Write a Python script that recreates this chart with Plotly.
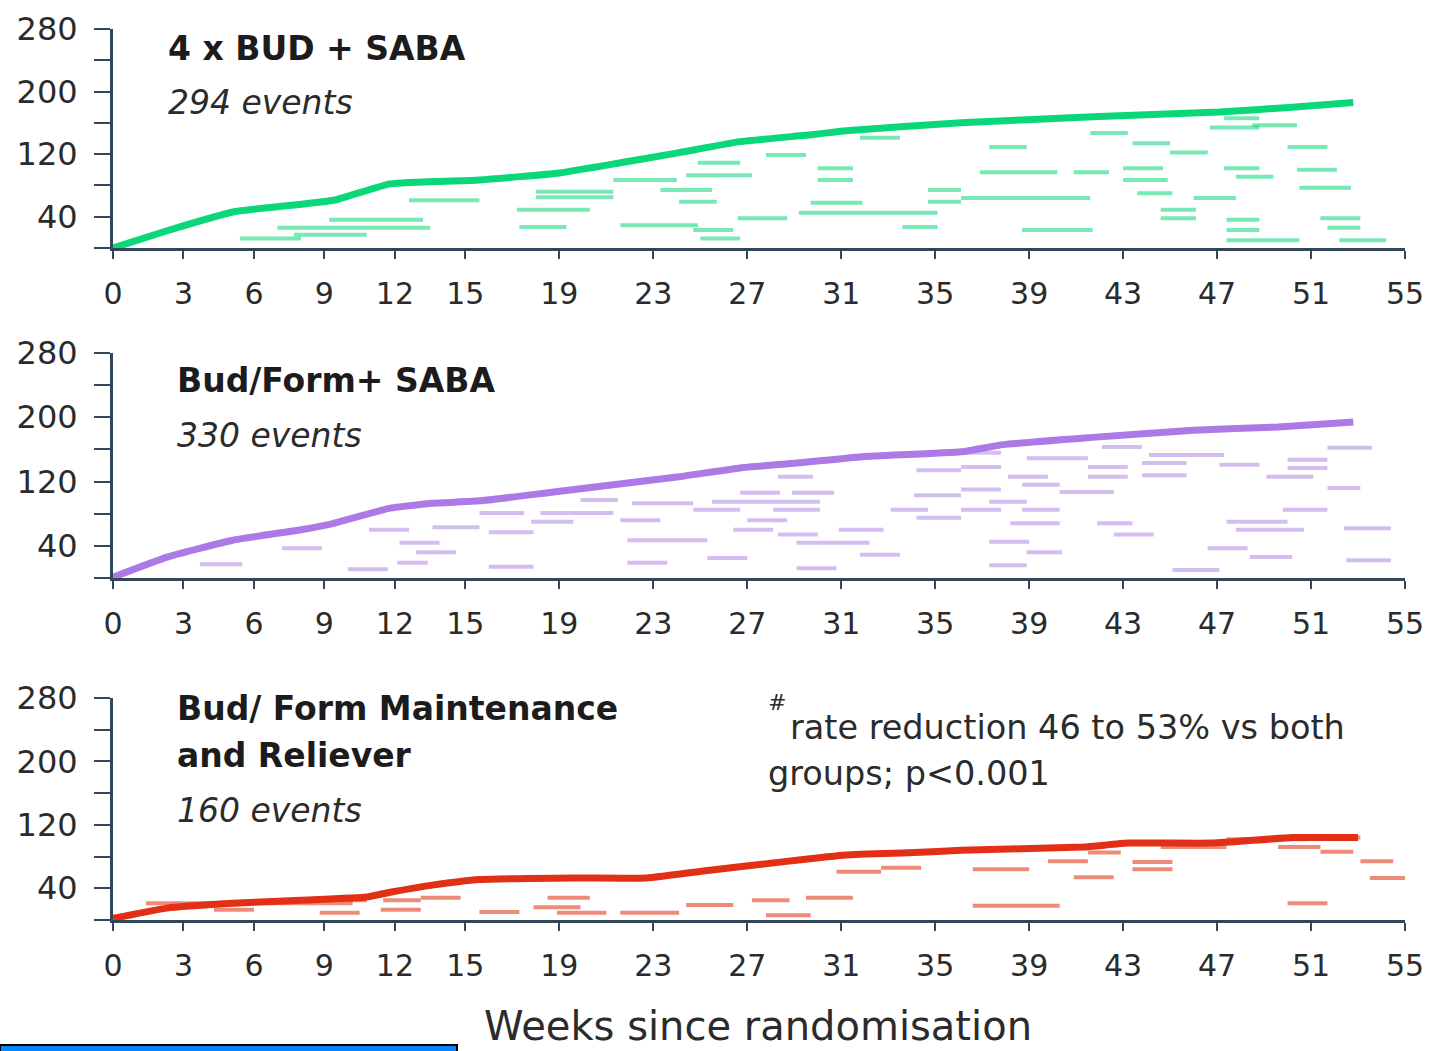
import plotly.graph_objects as go

# Week ticks on the shared time axis
week_ticks = [0, 3, 6, 9, 12, 15, 19, 23, 27, 31, 35, 39, 43, 47, 51, 55]
count_ticks = [0, 40, 80, 120, 160, 200, 240, 280]
count_labels = ["", "40", "", "120", "", "200", "", "280"]

# 4 x BUD + SABA: cumulative curve (weeks, events)
bud_weeks = [0, 2.3, 5.1, 9.4, 11.8, 15.6, 19.0, 21.6, 24.1, 26.7, 29.8, 31.2, 36.1, 40.3, 43.7, 47.1, 50.2, 52.8]
bud_events = [0, 22, 46, 61, 82, 87, 96, 109, 122, 136, 145, 150, 160, 166, 170, 174, 180, 186]
# individual event segments: start week, end week, level
bud_seg_start = [7.0, 9.2, 12.6, 5.4, 7.7, 17.2, 17.3, 18.0, 18.0, 21.3, 23.3, 24.1, 21.6, 24.7, 25.0,
                 24.4, 24.9, 27.8, 26.6, 30.0, 30.0, 29.7, 29.2, 33.6, 31.8, 34.7, 34.7, 37.3, 36.9,
                 36.1, 38.7, 41.6, 43.4, 45.0, 40.9, 43.0, 43.0, 43.6, 44.6, 44.6, 46.0, 46.7, 47.3,
                 48.5, 47.3, 47.8, 47.4, 47.4, 47.4, 50.0, 50.4, 50.5, 51.4, 51.7, 52.2]
bud_seg_end = [13.5, 13.2, 15.6, 8.0, 10.8, 20.3, 19.3, 21.3, 21.3, 24.0, 25.5, 25.7, 24.9, 26.4, 26.7,
               27.2, 26.7, 29.5, 28.7, 31.5, 31.5, 31.9, 35.1, 35.1, 33.5, 36.1, 36.1, 38.9, 40.2,
               41.6, 41.7, 43.2, 45.0, 46.6, 42.4, 44.7, 44.9, 45.1, 46.1, 46.1, 47.8, 48.8, 48.8,
               50.4, 48.8, 49.4, 48.8, 48.8, 50.5, 51.7, 52.1, 52.7, 53.1, 53.1, 54.2]
bud_seg_level = [26, 36, 61, 12, 17, 49, 27, 65, 72, 87, 74, 59, 29, 23, 12,
                 93, 109, 119, 38, 102, 87, 58, 45, 27, 141, 74, 59, 129, 97,
                 64, 23, 147, 134, 122, 97, 102, 87, 70, 49, 38, 64, 154, 166,
                 157, 102, 91, 36, 23, 10, 129, 100, 77, 38, 26, 10]

# Bud/Form + SABA
bf_weeks = [0, 2.3, 5.1, 8.0, 9.4, 11.8, 13.6, 15.6, 18.5, 21.3, 24.1, 26.7, 29.1, 31.9, 36.1, 37.9, 41.7, 46.0, 49.6, 52.8]
bf_events = [1, 26, 47, 60, 68, 87, 93, 96, 106, 116, 126, 137, 143, 151, 157, 166, 175, 184, 188, 194]
bf_seg_start = [7.2, 3.7, 10.9, 12.2, 12.9, 10.0, 12.1, 13.6, 15.6, 16.0, 16.0, 17.8, 18.2, 19.9, 21.6,
                21.9, 21.9, 22.1, 24.7, 25.3, 25.5, 26.4, 26.7, 27.0, 28.1, 28.3, 28.3, 28.9, 29.1,
                29.1, 30.9, 31.8, 33.1, 34.1, 34.2, 34.2, 36.1, 36.1, 36.1, 36.1, 37.3, 38.1, 38.7,
                38.7, 38.2, 37.3, 38.9, 37.3, 38.9, 40.3, 41.5, 41.5, 42.1, 41.9, 42.6, 43.8, 43.8,
                44.1, 45.1, 46.6, 47.1, 47.4, 47.8, 48.4, 49.1, 50.0, 50.0, 49.8, 51.7, 51.7, 52.4, 52.5]
bf_seg_end = [8.9, 5.5, 12.6, 13.9, 14.6, 11.7, 13.4, 15.6, 17.5, 17.9, 17.9, 19.6, 21.3, 21.5, 23.3,
              25.3, 23.6, 24.7, 26.7, 27.0, 30.1, 28.1, 28.4, 28.7, 30.1, 30.0, 29.8, 30.7, 32.2,
              30.8, 32.8, 33.5, 34.7, 36.1, 36.1, 36.1, 37.8, 37.8, 37.8, 37.8, 38.9, 39.8, 40.3,
              40.3, 40.3, 39.0, 40.4, 38.9, 41.5, 42.6, 43.2, 43.2, 43.8, 43.4, 44.3, 45.7, 45.7,
              47.3, 47.1, 48.3, 48.8, 50.0, 50.7, 50.2, 51.1, 51.7, 51.7, 51.7, 53.6, 53.1, 54.4, 54.4]
bf_seg_level = [37, 17, 60, 44, 32, 11, 19, 63, 81, 57, 14, 70, 81, 97, 72,
                47, 19, 93, 85, 25, 95, 60, 106, 72, 85, 54, 126, 106, 44,
                12, 60, 29, 85, 103, 134, 75, 156, 138, 110, 85, 95, 126, 116,
                85, 68, 45, 32, 16, 149, 107, 138, 126, 163, 68, 54, 143, 128,
                153, 10, 37, 141, 70, 60, 26, 126, 147, 137, 85, 162, 112, 62, 22]

# Bud/Form maintenance and reliever
smart_weeks = [0, 2.3, 5.1, 8.0, 10.8, 11.8, 13.6, 15.6, 19.6, 22.7, 25.5, 28.4, 31.2, 34.1, 36.1, 41.3, 43.2, 46.8, 50.2, 53.0]
smart_events = [2, 15, 21, 25, 29, 35, 44, 51, 53, 53, 63, 73, 82, 85, 88, 92, 97, 97, 104, 104]
smart_seg_start = [1.4, 6.6, 4.3, 7.7, 8.8, 11.5, 11.4, 13.1, 18.5, 17.9, 15.6, 18.9, 21.6, 24.4, 27.2,
                   29.5, 27.8, 30.8, 32.7, 41.5, 39.8, 36.6, 40.9, 43.4, 43.4, 36.6, 43.2, 44.6, 47.4,
                   49.6, 51.4, 51.4, 53.1, 53.5, 50.0]
smart_seg_end = [5.4, 10.2, 6.0, 10.8, 10.5, 13.1, 13.1, 14.8, 20.3, 19.9, 17.3, 21.0, 24.1, 26.4, 28.8,
                 31.5, 29.7, 32.7, 34.4, 42.9, 41.5, 39.0, 42.6, 45.1, 45.1, 40.3, 44.9, 47.4, 50.8,
                 51.4, 53.1, 52.8, 54.5, 55.1, 51.7]
smart_seg_level = [21, 21, 13, 25, 9, 25, 13, 28, 28, 16, 10, 9, 9, 19, 25,
                   28, 6, 61, 66, 85, 74, 64, 54, 73, 64, 18, 97, 92, 102,
                   92, 104, 86, 74, 53, 21]

panels = [
    dict(weeks=bud_weeks, events=bud_events, s=bud_seg_start, e=bud_seg_end, lv=bud_seg_level,
         line="rgb(10,216,120)", seg="rgba(10,214,120,0.55)"),
    dict(weeks=bf_weeks, events=bf_events, s=bf_seg_start, e=bf_seg_end, lv=bf_seg_level,
         line="rgb(172,122,230)", seg="rgba(160,110,225,0.45)"),
    dict(weeks=smart_weeks, events=smart_events, s=smart_seg_start, e=smart_seg_end, lv=smart_seg_level,
         line="rgb(226,48,22)", seg="rgba(226,60,30,0.6)"),
]

W, H = 1437, 1051
x_dom = [113 / W, 1405 / W]
y_doms = [[1 - 248 / H, 1 - 29 / H], [1 - 578 / H, 1 - 353 / H], [1 - 920 / H, 1 - 698 / H]]

axis_col = "#34465a"
font_fam = "DejaVu Sans"
txt_col = "#2b2b2b"

fig = go.Figure()
layout = dict(width=W, height=H, margin=dict(l=0, r=0, t=0, b=0, autoexpand=False),
              paper_bgcolor="white", plot_bgcolor="white", showlegend=False)

for i, p in enumerate(panels):
    n = "" if i == 0 else str(i + 1)
    xs, ys = [], []
    for s, e, v in zip(p["s"], p["e"], p["lv"]):
        xs += [s, e, None]
        ys += [v, v, None]
    fig.add_trace(go.Scatter(x=xs, y=ys, mode="lines", xaxis="x" + n, yaxis="y" + n,
                             line=dict(color=p["seg"], width=4), hoverinfo="skip"))
    fig.add_trace(go.Scatter(x=p["weeks"], y=p["events"], mode="lines", xaxis="x" + n, yaxis="y" + n,
                             line=dict(color=p["line"], width=7, shape="spline", smoothing=0.4)))
    layout["xaxis" + n] = dict(domain=x_dom, anchor="y" + n, range=[0, 55], tickvals=week_ticks,
                               ticks="outside", ticklen=8, tickwidth=2, tickcolor=axis_col,
                               showline=True, linecolor=axis_col, linewidth=3, showgrid=False,
                               zeroline=False, ticklabelstandoff=9, automargin=False,
                               tickfont=dict(family=font_fam, size=30, color=txt_col))
    layout["yaxis" + n] = dict(domain=y_doms[i], anchor="x" + n, range=[0, 280], tickvals=count_ticks,
                               ticktext=count_labels, ticks="outside", ticklen=16, tickwidth=2,
                               tickcolor=axis_col, showline=True, linecolor=axis_col, linewidth=3,
                               showgrid=False, zeroline=False, ticklabelstandoff=10, automargin=False,
                               tickfont=dict(family=font_fam, size=32, color=txt_col))

fig.update_layout(**layout)


def label(text, px, py, size=33, bold=False, italic=False, color=txt_col):
    fig.add_annotation(text=text, xref="paper", yref="paper", x=px / W, y=1 - py / H,
                       xanchor="left", yanchor="middle", showarrow=False,
                       font=dict(family=font_fam, size=size, color=color,
                                 weight="bold" if bold else "normal",
                                 style="italic" if italic else "normal"))


label("4 x BUD + SABA", 166, 48, bold=True, color="#1c1c1c")
label("294 events", 166, 103, italic=True)
label("Bud/Form+ SABA", 175, 380, bold=True, color="#1c1c1c")
label("330 events", 175, 435, italic=True)
label("Bud/ Form Maintenance", 175, 708, bold=True, color="#1c1c1c")
label("and Reliever", 175, 755, bold=True, color="#1c1c1c")
label("160 events", 175, 810, italic=True)
label("#", 766, 702, size=22)
label("rate reduction 46 to 53% vs both", 788, 727, size=33.5)
label("groups; p<0.001", 766, 773, size=33.5)
label("Weeks since randomisation", 482, 1026, size=40)

fig.add_shape(type="rect", xref="paper", yref="paper", x0=0, x1=457 / W, y0=-0.01, y1=1 - 1045 / H,
              fillcolor="#0a84ff", line=dict(color="black", width=2))

fig.write_html("out.html")
